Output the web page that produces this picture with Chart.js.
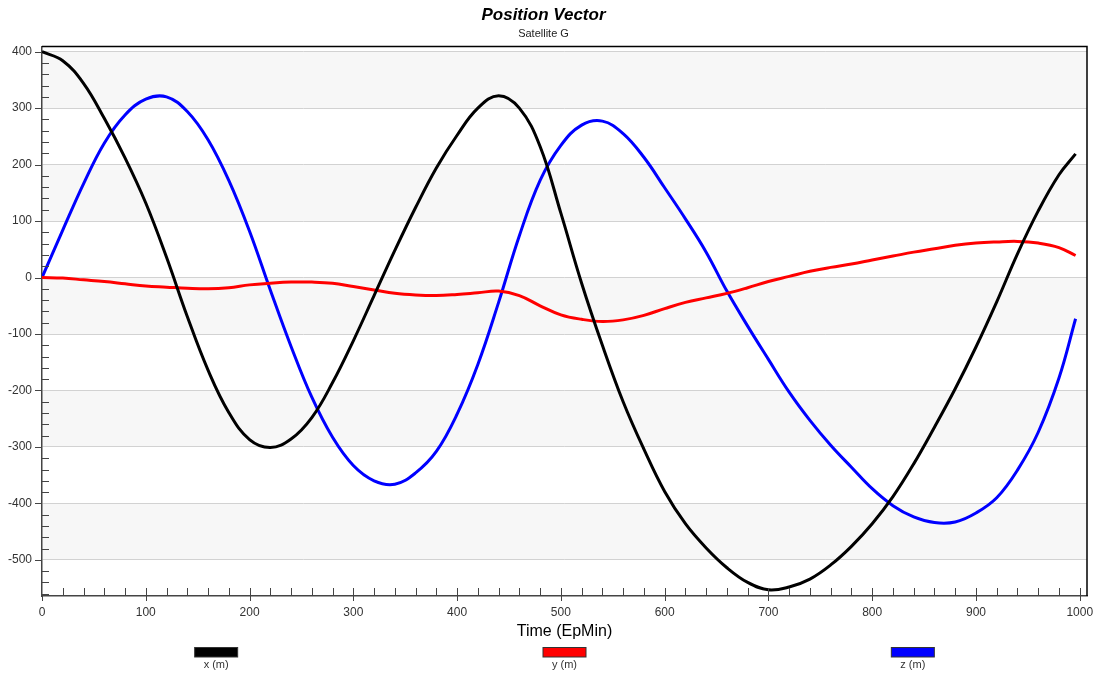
<!DOCTYPE html>
<html>
<head>
<meta charset="utf-8">
<title>Position Vector</title>
<script src="https://cdn.jsdelivr.net/npm/chart.js@4.4.0/dist/chart.umd.min.js"></script>
<style>
    html, body { margin: 0; padding: 0; background: #fff; }
    #chartWrap { width: 1098px; height: 677px; position: relative; }
</style>
</head>
<body>
<div id="chartWrap"><canvas id="posChart"></canvas></div>
<script>
// time (EpMin)
var gTime = [0, 20, 40, 60, 80, 100, 120, 140, 160, 180,
    200, 220, 240, 260, 280, 300, 320, 340, 360, 380,
    400, 420, 440, 460, 480, 500, 520, 540, 560, 580,
    600, 620, 640, 660, 680, 700, 720, 740, 760, 780,
    800, 820, 840, 860, 880, 900, 920, 940, 960, 980, 996];

// position components (m)
var gPosX = [400, 384, 344, 282, 212, 132, 36, -69, -164, -239,
    -287, -301, -286, -248, -186, -112, -32, 48, 124, 194,
    252, 300, 322, 300, 232, 114, -10, -120, -220, -304,
    -379, -436, -479, -514, -540, -553, -548, -534, -509, -476,
    -436, -388, -330, -265, -197, -123, -43, 42, 118, 182, 219];
var gPosY = [0, -1, -4, -7, -11, -15, -17, -19, -20, -18,
    -13, -10, -8, -8, -10, -16, -22, -28, -31, -32,
    -30, -27, -24, -32, -50, -66, -74, -78, -75, -67,
    -55, -44, -36, -28, -18, -7, 2, 11, 18, 24,
    31, 38, 45, 51, 57, 61, 63, 64, 61, 53, 39];
var gPosZ = [0, 84, 166, 238, 288, 316, 320, 294, 244, 172,
    82, -22, -122, -212, -283, -333, -360, -366, -346, -308,
    -242, -154, -44, 74, 172, 234, 270, 277, 255, 213,
    159, 104, 45, -24, -86, -145, -203, -253, -297, -336,
    -374, -404, -424, -434, -433, -417, -390, -341, -274, -178, -73];

var gSeriesLabels = ['x (m)', 'y (m)', 'z (m)'];
var gSeriesColors = ['#000000', '#ff0000', '#0000ff'];

var gXTicks = [0, 100, 200, 300, 400, 500, 600, 700, 800, 900, 1000];
var gYTicks = [-500, -400, -300, -200, -100, 0, 100, 200, 300, 400];

Chart.defaults.font.family = '"Liberation Sans", Arial, sans-serif';

function toPoints(pValues) {
    var vPoints = [];
    for (var i = 0; i < gTime.length; i++) {
        vPoints.push({ x: gTime[i], y: pValues[i] });
    }
    return vPoints;
}

//alternating grey bands behind the grid
var gBandPlugin = {
    id: 'bands',
    beforeDraw: function (chart) {
        var ctx = chart.ctx;
        var area = chart.chartArea;
        var yScale = chart.scales.y;
        ctx.save();
        ctx.fillStyle = '#f7f7f7';
        for (var v = -500; v < 400; v += 200) {
            var yTop = yScale.getPixelForValue(v + 100);
            var yBot = yScale.getPixelForValue(v);
            ctx.fillRect(area.left, yTop, area.right - area.left, yBot - yTop);
        }
        ctx.restore();
    }
};

//frame, minor ticks and the legend under the axis
var gFramePlugin = {
    id: 'frame',
    afterDraw: function (chart) {
        var ctx = chart.ctx;
        var area = chart.chartArea;
        var xScale = chart.scales.x;
        var yScale = chart.scales.y;
        ctx.save();

        ctx.strokeStyle = '#000';
        ctx.lineWidth = 1.5;
        ctx.beginPath();
        ctx.moveTo(area.left, area.top);
        ctx.lineTo(area.right, area.top);
        ctx.lineTo(area.right, area.bottom);
        ctx.stroke();

        ctx.strokeStyle = '#444';
        ctx.lineWidth = 1;
        ctx.beginPath();
        // y ticks: minor inside, major outside
        for (var v = -560; v <= 400; v += 20) {
            var py = Math.round(yScale.getPixelForValue(v)) + 0.5;
            if (v % 100 === 0) {
                ctx.moveTo(area.left - 7, py);
                ctx.lineTo(area.left, py);
            } else {
                ctx.moveTo(area.left, py);
                ctx.lineTo(area.left + 7, py);
            }
        }
        // x ticks: all go up, major ones also cross the axis
        for (var t = 20; t <= 1000; t += 20) {
            var px = Math.round(xScale.getPixelForValue(t)) + 0.5;
            ctx.moveTo(px, area.bottom - 8);
            ctx.lineTo(px, t % 100 === 0 ? area.bottom + 5 : area.bottom);
        }
        ctx.moveTo(area.left + 0.5, area.bottom);
        ctx.lineTo(area.left + 0.5, area.bottom + 5);
        ctx.stroke();

        // legend: coloured bar above each label
        var vWidth = area.right - area.left;
        ctx.font = '11px "Liberation Sans", Arial, sans-serif';
        ctx.textAlign = 'center';
        ctx.textBaseline = 'middle';
        for (var i = 0; i < chart.data.datasets.length; i++) {
            var ds = chart.data.datasets[i];
            var cx = area.left + vWidth * (2 * i + 1) / 6;
            ctx.fillStyle = ds.borderColor;
            ctx.fillRect(cx - 21.5, 647, 43, 10);
            ctx.strokeStyle = '#333';
            ctx.lineWidth = 1;
            ctx.strokeRect(cx - 21.5, 647.5, 43, 9.5);
            ctx.fillStyle = '#333';
            ctx.fillText(ds.label, cx, 665);
        }
        ctx.restore();
    }
};

var vDatasets = [];
var vSeries = [gPosX, gPosY, gPosZ];
for (var i = 0; i < vSeries.length; i++) {
    vDatasets.push({
        label: gSeriesLabels[i],
        data: toPoints(vSeries[i]),
        borderColor: gSeriesColors[i],
        backgroundColor: gSeriesColors[i],
        borderWidth: 3,
        pointRadius: 0,
        tension: 0.4,
        fill: false
    });
}

new Chart(document.getElementById('posChart').getContext('2d'), {
    type: 'line',
    data: { datasets: vDatasets },
    options: {
        responsive: true,
        maintainAspectRatio: false,
        animation: false,
        layout: { padding: { top: 0, right: 11, bottom: 0, left: 0 } },
        plugins: {
            legend: { display: false },
            tooltip: { enabled: false },
            title: {
                display: true,
                text: 'Position Vector',
                color: '#000',
                font: { size: 17, weight: 'bold', style: 'italic' },
                padding: { top: 5, bottom: 0 }
            },
            subtitle: {
                display: true,
                text: 'Satellite G',
                color: '#222',
                font: { size: 11 },
                padding: { top: 2, bottom: 6 }
            }
        },
        scales: {
            x: {
                type: 'linear',
                min: 0,
                max: 1007,
                afterBuildTicks: function (scale) {
                    scale.ticks = gXTicks.map(function (v) { return { value: v }; });
                },
                afterFit: function (scale) {
                    scale.height = 81;
                    scale.paddingLeft = 0;
                    scale.paddingRight = 0;
                },
                grid: { drawOnChartArea: false, drawTicks: false },
                border: { color: '#444', width: 1.5 },
                ticks: {
                    color: '#333',
                    font: { size: 12 },
                    padding: 9,
                    maxRotation: 0,
                    callback: function (value) { return String(value); }
                },
                title: {
                    display: true,
                    text: 'Time (EpMin)',
                    color: '#000',
                    font: { size: 16 },
                    padding: { top: 0, bottom: 36 }
                }
            },
            y: {
                type: 'linear',
                min: -564,
                max: 409,
                afterBuildTicks: function (scale) {
                    scale.ticks = gYTicks.map(function (v) { return { value: v }; });
                },
                afterFit: function (scale) {
                    scale.width = 42;
                    scale.paddingTop = 0;
                    scale.paddingBottom = 0;
                },
                grid: { color: '#d2d2d2', lineWidth: 1, drawTicks: false },
                border: { color: '#444', width: 1.5 },
                ticks: {
                    color: '#333',
                    font: { size: 12 },
                    padding: 10,
                    callback: function (value) { return String(value); }
                }
            }
        }
    },
    plugins: [gBandPlugin, gFramePlugin]
});
</script>
</body>
</html>
